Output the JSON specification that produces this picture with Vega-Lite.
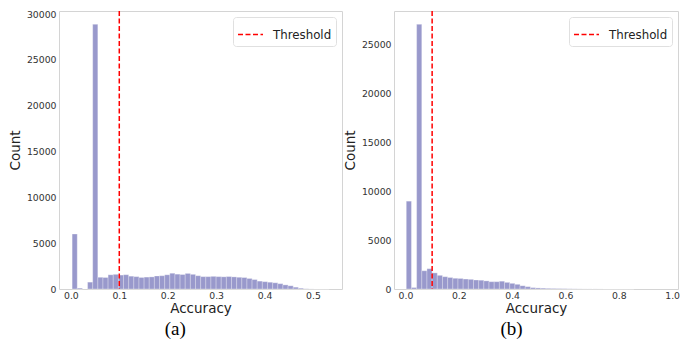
{
  "$schema": "https://vega.github.io/schema/vega-lite/v6.json",
  "padding": {"left": 7, "top": 9, "right": 0, "bottom": 0},
  "spacing": -1,
  "datasets": {
    "left": [
      {"start": 0.0026, "end": 0.0132, "count": 6000},
      {"start": 0.0132, "end": 0.0238, "count": 100},
      {"start": 0.0345, "end": 0.0451, "count": 750},
      {"start": 0.0451, "end": 0.0557, "count": 28880},
      {"start": 0.0557, "end": 0.0663, "count": 1280},
      {"start": 0.0663, "end": 0.0769, "count": 1260},
      {"start": 0.0769, "end": 0.0876, "count": 1550},
      {"start": 0.0876, "end": 0.0982, "count": 1600},
      {"start": 0.0982, "end": 0.1088, "count": 1520},
      {"start": 0.1088, "end": 0.1194, "count": 1560},
      {"start": 0.1194, "end": 0.1300, "count": 1400},
      {"start": 0.1300, "end": 0.1407, "count": 1350},
      {"start": 0.1407, "end": 0.1513, "count": 1260},
      {"start": 0.1513, "end": 0.1619, "count": 1300},
      {"start": 0.1619, "end": 0.1725, "count": 1320},
      {"start": 0.1725, "end": 0.1831, "count": 1420},
      {"start": 0.1831, "end": 0.1938, "count": 1450},
      {"start": 0.1938, "end": 0.2044, "count": 1550},
      {"start": 0.2044, "end": 0.2150, "count": 1720},
      {"start": 0.2150, "end": 0.2256, "count": 1620},
      {"start": 0.2256, "end": 0.2362, "count": 1580},
      {"start": 0.2362, "end": 0.2469, "count": 1700},
      {"start": 0.2469, "end": 0.2575, "count": 1600},
      {"start": 0.2575, "end": 0.2681, "count": 1450},
      {"start": 0.2681, "end": 0.2787, "count": 1350},
      {"start": 0.2787, "end": 0.2893, "count": 1350},
      {"start": 0.2893, "end": 0.3000, "count": 1380},
      {"start": 0.3000, "end": 0.3106, "count": 1350},
      {"start": 0.3106, "end": 0.3212, "count": 1330},
      {"start": 0.3212, "end": 0.3318, "count": 1360},
      {"start": 0.3318, "end": 0.3424, "count": 1320},
      {"start": 0.3424, "end": 0.3531, "count": 1280},
      {"start": 0.3531, "end": 0.3637, "count": 1250},
      {"start": 0.3637, "end": 0.3743, "count": 1150},
      {"start": 0.3743, "end": 0.3849, "count": 1030},
      {"start": 0.3849, "end": 0.3955, "count": 860},
      {"start": 0.3955, "end": 0.4062, "count": 800},
      {"start": 0.4062, "end": 0.4168, "count": 740},
      {"start": 0.4168, "end": 0.4274, "count": 680},
      {"start": 0.4274, "end": 0.4380, "count": 580},
      {"start": 0.4380, "end": 0.4486, "count": 450},
      {"start": 0.4486, "end": 0.4593, "count": 350},
      {"start": 0.4593, "end": 0.4699, "count": 200},
      {"start": 0.4699, "end": 0.4805, "count": 90},
      {"start": 0.4805, "end": 0.4911, "count": 25},
      {"start": 0.4911, "end": 0.5017, "count": 6},
      {"start": 0.5017, "end": 0.5124, "count": 2},
      {"start": 0.5124, "end": 0.5230, "count": 1},
      {"start": 0.5230, "end": 0.5336, "count": 1}
    ],
    "right": [
      {"start": 0.0030, "end": 0.0224, "count": 9000},
      {"start": 0.0224, "end": 0.0418, "count": 150},
      {"start": 0.0418, "end": 0.0612, "count": 27120},
      {"start": 0.0612, "end": 0.0806, "count": 1870},
      {"start": 0.0806, "end": 0.1000, "count": 2080},
      {"start": 0.1000, "end": 0.1194, "count": 1650},
      {"start": 0.1194, "end": 0.1388, "count": 1400},
      {"start": 0.1388, "end": 0.1582, "count": 1260},
      {"start": 0.1582, "end": 0.1776, "count": 1180},
      {"start": 0.1776, "end": 0.1970, "count": 1100},
      {"start": 0.1970, "end": 0.2164, "count": 1080},
      {"start": 0.2164, "end": 0.2358, "count": 1020},
      {"start": 0.2358, "end": 0.2552, "count": 990},
      {"start": 0.2552, "end": 0.2746, "count": 920},
      {"start": 0.2746, "end": 0.2940, "count": 900},
      {"start": 0.2940, "end": 0.3134, "count": 830},
      {"start": 0.3134, "end": 0.3328, "count": 750},
      {"start": 0.3328, "end": 0.3522, "count": 750},
      {"start": 0.3522, "end": 0.3716, "count": 800},
      {"start": 0.3716, "end": 0.3910, "count": 680},
      {"start": 0.3910, "end": 0.4104, "count": 580},
      {"start": 0.4104, "end": 0.4298, "count": 480},
      {"start": 0.4298, "end": 0.4492, "count": 340},
      {"start": 0.4492, "end": 0.4686, "count": 240},
      {"start": 0.4686, "end": 0.4880, "count": 140},
      {"start": 0.4880, "end": 0.5074, "count": 110},
      {"start": 0.5074, "end": 0.5268, "count": 90},
      {"start": 0.5268, "end": 0.5462, "count": 70},
      {"start": 0.5462, "end": 0.5656, "count": 60},
      {"start": 0.5656, "end": 0.5850, "count": 50},
      {"start": 0.5850, "end": 0.6044, "count": 40},
      {"start": 0.6044, "end": 0.6238, "count": 25},
      {"start": 0.6238, "end": 0.6432, "count": 18},
      {"start": 0.6432, "end": 0.6626, "count": 12},
      {"start": 0.6626, "end": 0.6820, "count": 8},
      {"start": 0.6820, "end": 0.7014, "count": 6},
      {"start": 0.7014, "end": 0.7208, "count": 5},
      {"start": 0.7208, "end": 0.7402, "count": 4},
      {"start": 0.7402, "end": 0.7596, "count": 3},
      {"start": 0.7596, "end": 0.7790, "count": 3},
      {"start": 0.7790, "end": 0.7984, "count": 2},
      {"start": 0.7984, "end": 0.8178, "count": 2},
      {"start": 0.8178, "end": 0.8372, "count": 1},
      {"start": 0.8372, "end": 0.8566, "count": 1}
    ]
  },
  "config": {
    "font": "DejaVu Sans",
    "view": {"stroke": "#d4d4d4", "strokeWidth": 1},
    "axis": {"grid": false, "ticks": false, "domain": false, "labelFont": "DejaVu Sans", "labelFontSize": 9.3, "labelColor": "#333333", "titleFont": "DejaVu Sans", "titleFontSize": 13.5, "titleFontWeight": "normal", "titleColor": "#222222"},
    "legend": {"title": null, "orient": "top-right", "offset": 6, "symbolType": "stroke", "symbolSize": 625, "symbolDash": [5, 2.5], "symbolStrokeWidth": 1.5, "labelFont": "DejaVu Sans", "labelFontSize": 11.8, "labelColor": "#222222", "labelOffset": 9, "strokeColor": "#e0e0e0", "fillColor": "white", "padding": 4, "cornerRadius": 3},
    "title": {"orient": "bottom", "frame": "bounds", "anchor": "middle", "font": "Liberation Serif", "fontSize": 19, "fontWeight": "normal", "color": "#000000", "offset": 5}
  },
  "resolve": {"scale": {"color": "independent"}, "legend": {"color": "independent"}},
  "hconcat": [
    {
      "width": 283, "height": 278,
      "title": {"text": "(a)"},
      "layer": [
        {
          "data": {"name": "left"},
          "mark": {"type": "rect", "fill": "#000080", "fillOpacity": 0.4, "stroke": "#ffffff", "strokeWidth": 0.6, "strokeOpacity": 0.5},
          "encoding": {
            "x": {"field": "start", "type": "quantitative", "scale": {"domain": [-0.0245, 0.56], "nice": false, "zero": false}, "axis": {"values": [0, 0.1, 0.2, 0.3, 0.4, 0.5], "format": ".1f", "title": "Accuracy", "labelPadding": 2, "titlePadding": 1}},
            "x2": {"field": "end"},
            "y": {"field": "count", "type": "quantitative", "scale": {"domain": [0, 30330], "nice": false}, "axis": {"values": [0, 5000, 10000, 15000, 20000, 25000, 30000], "format": "d", "title": "Count", "labelPadding": 3, "titlePadding": 4}}
          }
        },
        {
          "data": {"values": [{}]},
          "mark": {"type": "rule", "strokeDash": [5, 2.5], "strokeWidth": 1.5},
          "encoding": {
            "x": {"datum": 0.1},
            "color": {"datum": "Threshold", "scale": {"range": ["#ff0000"]}}
          }
        }
      ]
    },
    {
      "width": 284, "height": 278,
      "title": {"text": "(b)"},
      "layer": [
        {
          "data": {"name": "right"},
          "mark": {"type": "rect", "fill": "#000080", "fillOpacity": 0.4, "stroke": "#ffffff", "strokeWidth": 0.6, "strokeOpacity": 0.5},
          "encoding": {
            "x": {"field": "start", "type": "quantitative", "scale": {"domain": [-0.043, 1.022], "nice": false, "zero": false}, "axis": {"values": [0, 0.2, 0.4, 0.6, 0.8, 1.0], "format": ".1f", "title": "Accuracy", "labelPadding": 2, "titlePadding": 1}},
            "x2": {"field": "end"},
            "y": {"field": "count", "type": "quantitative", "scale": {"domain": [0, 28480], "nice": false}, "axis": {"values": [0, 5000, 10000, 15000, 20000, 25000], "format": "d", "title": "Count", "labelPadding": 3, "titlePadding": 4}}
          }
        },
        {
          "data": {"values": [{}]},
          "mark": {"type": "rule", "strokeDash": [5, 2.5], "strokeWidth": 1.5},
          "encoding": {
            "x": {"datum": 0.1},
            "color": {"datum": "Threshold", "scale": {"range": ["#ff0000"]}}
          }
        }
      ]
    }
  ]
}
